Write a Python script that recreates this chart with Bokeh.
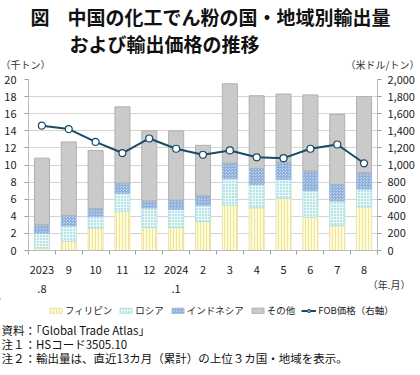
from bokeh.plotting import figure
from bokeh.layouts import column
from bokeh.models import (ColumnDataSource, Range1d, LinearAxis, FixedTicker, Title,
                          Legend, LegendItem, NumeralTickFormatter)
from bokeh.core.properties import value
from bokeh.embed import file_html
from bokeh.resources import INLINE

months = ["2023\n.8", "9", "10", "11", "12", "2024\n.1", "2", "3", "4", "5", "6", "7", "8"]
philippines = [0.3, 1.1, 2.6, 4.6, 2.7, 2.7, 3.4, 5.3, 5.0, 6.1, 3.9, 2.9, 5.1]
russia = [1.7, 1.8, 1.4, 2.1, 2.3, 2.1, 1.9, 3.1, 2.7, 2.2, 3.1, 2.9, 2.1]
indonesia = [1.0, 1.2, 0.9, 1.2, 0.8, 1.1, 1.1, 1.8, 1.9, 2.0, 2.3, 1.9, 1.9]
others = [7.8, 8.6, 6.8, 8.9, 8.2, 8.1, 5.9, 9.3, 8.5, 8.0, 8.9, 8.2, 8.9]
fob_price = [1460, 1420, 1270, 1140, 1310, 1190, 1120, 1170, 1090, 1080, 1190, 1240, 1020]

series_names = ["フィリピン", "ロシア", "インドネシア", "その他"]
line_name = "FOB価格（右軸）"
title_lines = ["図", "中国の化工でん粉の国・地域別輸出量", "および輸出価格の推移"]
notes = ["資料：「Global Trade Atlas」", "注１：HSコード3505.10",
         "注２：輸出量は、直近13カ月（累計）の上位３カ国・地域を表示。"]

FONT = "Noto Sans CJK JP"
xs = list(range(len(months)))
keys = ["phil", "rus", "indo", "oth"]
styles = [
    dict(fill_color="#FFFDD8", line_color="#E8E0B0", hatch_pattern="vertical_line", hatch_color="#EDE39A"),
    dict(fill_color="#EEF9F9", line_color="#B8E0E0", hatch_pattern="dot", hatch_color="#5EC0C4"),
    dict(fill_color="#C3D8F0", line_color="#9FBCE0", hatch_pattern="criss_cross", hatch_color="#8EB0DA"),
    dict(fill_color="#CACACA", line_color="#B0B0B0", hatch_pattern=None, hatch_color=None),
]
LINE_COLOR = "#1A4B68"


def bare_fig(h):
    fig = figure(width=420, height=h, output_backend="svg", toolbar_location=None,
                 x_range=Range1d(0, 420), y_range=Range1d(h, 0),
                 x_axis_type=None, y_axis_type=None,
                 min_border_left=0, min_border_right=0, min_border_top=0, min_border_bottom=0)
    fig.frame_align = False
    fig.outline_line_color = None
    fig.xgrid.visible = False
    fig.ygrid.visible = False
    fig.background_fill_color = "white"
    fig.border_fill_color = "white"
    return fig


def style_bar(r, st):
    if st["hatch_pattern"]:
        r.glyph.hatch_pattern = st["hatch_pattern"]
        r.glyph.hatch_color = st["hatch_color"]
        r.glyph.hatch_scale = 3.0
        r.glyph.hatch_weight = 1


# ---------- top: title and unit labels ----------
top = bare_fig(72)
top.text(x=[30, 67, 69], y=[16, 16, 43], text=title_lines, text_font=value(FONT),
         text_font_size="19px", text_font_style="bold", text_baseline="middle",
         text_color="#111111")
top.text(x=[0], y=[64], text=["（千トン）"], text_font=value(FONT), text_font_size="10px",
         text_baseline="middle", text_color="#333333")
top.text(x=[419], y=[64], text=["（米ドル/トン）"], text_font=value(FONT), text_font_size="10px",
         text_baseline="middle", text_align="right", text_color="#333333")

# ---------- main chart ----------
src = ColumnDataSource(dict(x=xs, phil=philippines, rus=russia, indo=indonesia,
                            oth=others, fob=fob_price))

p = figure(width=420, height=226, output_backend="svg", toolbar_location=None,
           x_range=Range1d(-0.5, len(months) - 0.5), y_range=Range1d(0, 20),
           min_border_left=28, min_border_right=43, min_border_top=7, min_border_bottom=0)
p.frame_align = False
p.outline_line_color = None
p.background_fill_color = "white"
p.border_fill_color = "white"
p.extra_y_ranges = {"price": Range1d(0, 2000)}

bars = p.vbar_stack(keys, x="x", width=0.56, source=src,
                    fill_color=[s["fill_color"] for s in styles],
                    line_color=[s["line_color"] for s in styles], line_width=1)
for r, st in zip(bars, styles):
    style_bar(r, st)

p.line("x", "fob", source=src, y_range_name="price", line_color=LINE_COLOR, line_width=2)
p.scatter("x", "fob", source=src, y_range_name="price", size=7,
          fill_color="white", line_color=LINE_COLOR, line_width=1.2)

p.xgrid.grid_line_color = None
p.ygrid.grid_line_color = "#D4D4D4"
p.ygrid.ticker = FixedTicker(ticks=list(range(0, 21, 2)))

xa = p.xaxis[0]
xa.ticker = FixedTicker(ticks=xs, minor_ticks=[i + 0.5 for i in range(-1, len(months))])
xa.major_label_overrides = {i: m for i, m in enumerate(months)}
xa.major_tick_line_color = None
xa.minor_tick_line_color = "#A0A0A0"
xa.minor_tick_out = 4
xa.minor_tick_in = 0
xa.axis_line_color = "#BDBDBD"
xa.major_label_text_font = FONT
xa.major_label_text_font_size = "11px"
xa.major_label_text_color = "#222222"
xa.major_label_text_line_height = 1.2
xa.major_label_standoff = 4

ya = p.yaxis[0]
ya.ticker = FixedTicker(ticks=list(range(0, 21, 2)))
ya.axis_line_color = "#BDBDBD"
ya.major_tick_line_color = "#A0A0A0"
ya.major_tick_out = 4
ya.major_tick_in = 0
ya.minor_tick_line_color = None
ya.major_label_text_font = FONT
ya.major_label_text_font_size = "11px"
ya.major_label_text_color = "#222222"
ya.major_label_standoff = 8

ra = LinearAxis(y_range_name="price", ticker=FixedTicker(ticks=list(range(0, 2001, 200))),
                formatter=NumeralTickFormatter(format="0,0"))
ra.axis_line_color = "#BDBDBD"
ra.major_tick_line_color = "#A0A0A0"
ra.major_tick_out = 4
ra.major_tick_in = 0
ra.minor_tick_line_color = None
ra.major_label_text_font = FONT
ra.major_label_text_font_size = "11px"
ra.major_label_text_color = "#222222"
ra.major_label_standoff = 6
p.add_layout(ra, "right")

unit_title = Title(text="（年.月）", align="right", vertical_align="top", offset=-33,
                   standoff=-44, text_font=FONT, text_font_size="10px",
                   text_font_style="normal", text_color="#333333")
p.add_layout(unit_title, "below")

# ---------- bottom: legend and notes ----------
bot = bare_fig(77)
# legend proxies, placed outside the visible range of this strip
proxy = ColumnDataSource(dict(x=[-1000], top=[1], y=[0]))
proxy_line = ColumnDataSource(dict(x=[-1000, -990], y=[0, 0]))
lbars = []
for st in styles:
    r = bot.vbar(x="x", top="top", width=1, source=proxy,
                 fill_color=st["fill_color"], line_color=st["line_color"], line_width=1)
    style_bar(r, st)
    lbars.append(r)
ll = bot.line("x", "y", source=proxy_line, line_color=LINE_COLOR, line_width=2)
lp = bot.scatter("x", "y", source=proxy, size=6, fill_color="white",
                 line_color=LINE_COLOR, line_width=1.2)
items = [LegendItem(label=n, renderers=[r]) for n, r in zip(series_names, lbars)]
items.append(LegendItem(label=line_name, renderers=[ll, lp]))
legend = Legend(items=items, orientation="horizontal", location=(48, 58),
                label_text_font=FONT, label_text_font_size="9.5px", label_text_color="#222222",
                glyph_width=15, glyph_height=7, spacing=6, padding=0, margin=0,
                label_standoff=2, border_line_color=None, background_fill_alpha=0)
bot.add_layout(legend, "center")
bot.text(x=[1, 1, 1], y=[31, 45, 59], text=notes, text_font=value(FONT),
         text_font_size="11.5px", text_baseline="middle", text_color="#111111")

layout = column(top, p, bot, spacing=0)
open("out.html", "w").write(file_html(layout, INLINE))
